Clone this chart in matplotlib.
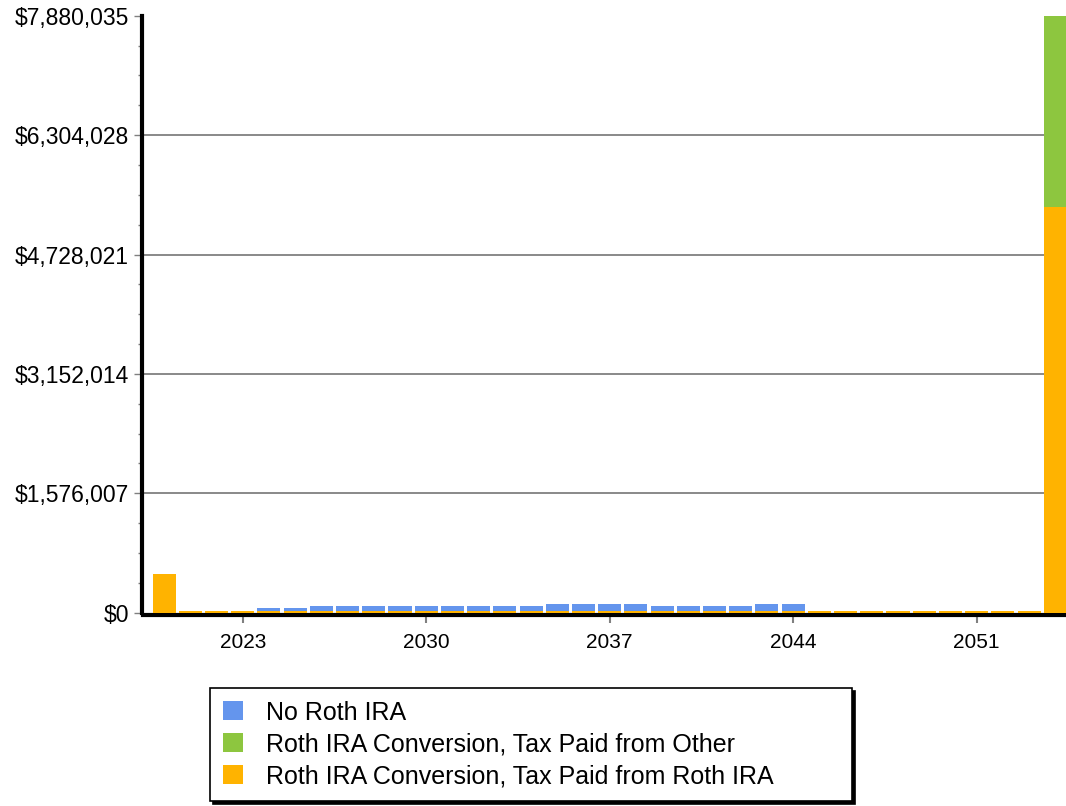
import matplotlib
matplotlib.use('Agg')
import matplotlib.pyplot as plt
from matplotlib.patches import Patch
from matplotlib.ticker import FixedLocator, AutoMinorLocator, FuncFormatter
import numpy as np

plt.rcParams['font.family'] = ['Liberation Sans', 'DejaVu Sans']

# data
years = list(range(2020, 2055))
no_roth = [0, 0, 0, 0,
           62000, 62000,
           91000, 91000, 91000, 91000, 91000, 91000, 91000, 91000, 91000,
           119000, 119000, 119000, 119000,
           91000, 91000, 91000, 91000,
           119000, 119000,
           0, 0, 0, 0, 0, 0, 0, 0, 0, 0]
tax_other = [0] * 34 + [7880035]
tax_roth = [511000] + [22000] * 33 + [5355000]

y_ticks = [0, 1576007, 3152014, 4728021, 6304028, 7880035]
x_ticks = [2023, 2030, 2037, 2044, 2051]
labels = ['No Roth IRA',
          'Roth IRA Conversion, Tax Paid from Other',
          'Roth IRA Conversion, Tax Paid from Roth IRA']
COLORS = ['#6495ED', '#8DC63F', '#FFB300']

fig = plt.figure(figsize=(10.66, 8.06), dpi=100)
ax = fig.add_axes([143 / 1066, 1 - 612.7 / 806, 1 - 143 / 1066, (612.7 - 15.7) / 806])

W = 0.88
ax.bar(years, no_roth, width=W, color=COLORS[0], zorder=2)
ax.bar(years, tax_other, width=W, color=COLORS[1], zorder=3)
ax.bar(years, tax_roth, width=W, color=COLORS[2], zorder=4)

ax.set_xlim(2019.195, 2054.41)
ax.set_ylim(0, y_ticks[-1])

# axes styling
for s in ['top', 'right']:
    ax.spines[s].set_visible(False)
ax.spines['left'].set_linewidth(3)
ax.spines['bottom'].set_linewidth(3)
ax.spines['bottom'].set_position(('outward', 1.5))
ax.spines['left'].set_position(('outward', 1))

ax.yaxis.set_major_locator(FixedLocator(y_ticks))
ax.yaxis.set_minor_locator(AutoMinorLocator(4))
ax.yaxis.set_major_formatter(FuncFormatter(lambda v, p: '${:,.0f}'.format(v)))
ax.xaxis.set_major_locator(FixedLocator(x_ticks))

ax.tick_params(axis='y', which='major', length=6, width=1, color='#808080',
               labelsize=16.5, pad=3)
ax.tick_params(axis='y', which='minor', length=3, width=1, color='#808080')
ax.tick_params(axis='x', which='major', length=6, width=1.5, color='#808080',
               labelsize=15, pad=7)

ax.yaxis.grid(True, color='#808080', linewidth=1.3, zorder=1)
ax.set_axisbelow(True)
ax.get_ygridlines()[-1].set_visible(False)
ax.get_ygridlines()[0].set_visible(False)

# legend box stretched to the width seen in the reference
handles = [Patch(facecolor=c, edgecolor='none') for c in COLORS]
x0, x1 = 210 / 1066, 852 / 1066
y1 = 1 - 688 / 806
leg = fig.legend(handles, labels, loc='upper left', mode='expand',
                 bbox_to_anchor=(x0, y1 - 0.14, x1 - x0, 0.14),
                 fontsize=18, frameon=True, fancybox=False,
                 edgecolor='black', framealpha=1,
                 shadow={'color': 'black', 'alpha': 1, 'ox': 2, 'oy': -2},
                 handlelength=0.8, handleheight=0.8, handletextpad=0.95,
                 labelspacing=0.32, borderpad=0.5, borderaxespad=0)
leg.get_frame().set_linewidth(1.2)

fig.savefig('out.png', dpi=100)
